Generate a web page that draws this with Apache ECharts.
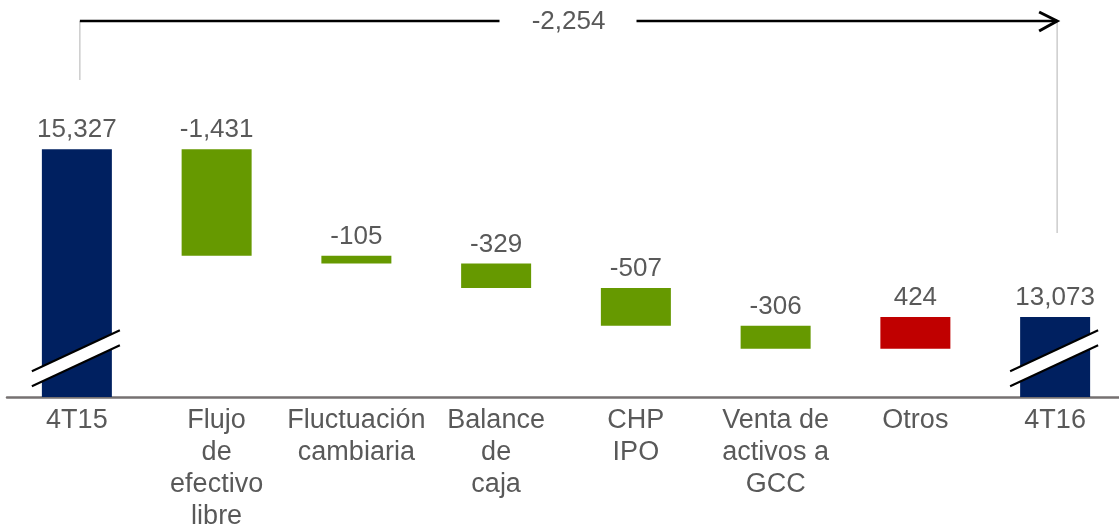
<!DOCTYPE html>
<html>
<head>
<meta charset="utf-8">
<script src="https://cdn.jsdelivr.net/npm/echarts@6/dist/echarts.min.js"></script>
<style>
  html, body { margin: 0; padding: 0; background: #fff; }
  #chart { width: 1119px; height: 525px; }
</style>
</head>
<body>
<div id="chart"></div>
<script>
// waterfall: first and last are totals, the rest are changes
const categories = ['4T15', 'Flujo\nde\nefectivo\nlibre', 'Fluctuación\ncambiaria', 'Balance\nde\ncaja',
  'CHP\nIPO', 'Venta de\nactivos a\nGCC', 'Otros', '4T16'];
const values = [15327, -1431, -105, -329, -507, -306, 424, 13073];
const isTotal = [true, false, false, false, false, false, false, true];
// axis is cut: bars start at 12,000, break marks drawn on the total bars
const axisMin = 12000;
const axisMax = 16000;
const breakAt = [[0, 12520], [7, 12520]];
// overall change shown by the arrow over the chart
const bracket = [[0, 7, -2254]];

const FONT = '"Liberation Sans", Arial, sans-serif';
const GRAY = '#595959';
const fmt = v => v.toLocaleString('en-US');

function initWaterfall() {
  const el = document.getElementById('chart');
  const chart = echarts.init(el);

  const base = [], shown = [];
  let running = 0;
  values.forEach((v, i) => {
    let color;
    if (isTotal[i]) {
      base.push(0);
      running = v;
      color = '#002060';
      shown.push({ value: v, itemStyle: { color } });
      return;
    }
    base.push(v < 0 ? running + v : running);
    running += v;
    color = v < 0 ? '#669900' : '#C00000';
    shown.push({ value: Math.abs(v), itemStyle: { color } });
  });

  chart.setOption({
    animation: false,
    grid: { left: 7, width: 1118, top: 99, bottom: 128, outerBoundsMode: 'none', containLabel: false },
    xAxis: {
      type: 'category',
      data: categories,
      axisTick: { show: false },
      axisLine: { lineStyle: { color: '#767171', width: 2.5 } },
      axisLabel: {
        interval: 0, margin: 8, color: GRAY, fontSize: 27, lineHeight: 32,
        fontFamily: FONT, align: 'center'
      }
    },
    yAxis: {
      type: 'value', min: axisMin, max: axisMax, show: false,
      splitLine: { show: false }
    },
    series: [
      {
        type: 'bar', stack: 'w', data: base, barWidth: 70,
        itemStyle: { color: 'transparent' }, silent: true
      },
      {
        type: 'bar', stack: 'w', data: shown, barWidth: 70,
        label: {
          show: true, position: 'top', distance: 6, color: GRAY,
          fontSize: 26, fontFamily: FONT,
          formatter: p => fmt(values[p.dataIndex])
        }
      },
      {
        type: 'custom', data: breakAt, z: 5, silent: true,
        renderItem: (params, api) => {
          const p = api.coord([api.value(0), api.value(1)]);
          const cx = p[0] - 1, cy = p[1];
          const hw = 44, rise = 20.5, gap = 7.5;
          return {
            type: 'group',
            children: [
              { type: 'polygon', shape: { points: [
                  [cx - hw, cy + rise - gap], [cx + hw, cy - rise - gap],
                  [cx + hw, cy - rise + gap], [cx - hw, cy + rise + gap]] },
                style: { fill: '#fff' } },
              { type: 'line', shape: { x1: cx - hw, y1: cy + rise - gap, x2: cx + hw, y2: cy - rise - gap },
                style: { stroke: '#000', lineWidth: 2 } },
              { type: 'line', shape: { x1: cx - hw, y1: cy + rise + gap, x2: cx + hw, y2: cy - rise + gap },
                style: { stroke: '#000', lineWidth: 2 } }
            ]
          };
        }
      },
      {
        type: 'custom', data: bracket, z: 5, silent: true,
        renderItem: (params, api) => {
          const x1 = api.coord([api.value(0), axisMin])[0] + 3;
          const x2 = api.coord([api.value(1), axisMin])[0] + 2;
          const y = params.coordSys.y - 78;
          const mid = (x1 + x2) / 2;
          return {
            type: 'group',
            children: [
              { type: 'line', shape: { x1: x1, y1: y, x2: x1, y2: y + 59 },
                style: { stroke: '#BFBFBF', lineWidth: 1.2 } },
              { type: 'line', shape: { x1: x2, y1: y, x2: x2, y2: y + 212 },
                style: { stroke: '#BFBFBF', lineWidth: 1.2 } },
              { type: 'line', shape: { x1: x1, y1: y, x2: mid - 69, y2: y },
                style: { stroke: '#000', lineWidth: 2.5 } },
              { type: 'line', shape: { x1: mid + 68, y1: y, x2: x2, y2: y },
                style: { stroke: '#000', lineWidth: 2.5 } },
              { type: 'polyline', shape: { points: [[x2 - 18, y - 9], [x2, y], [x2 - 18, y + 10]] },
                style: { stroke: '#000', lineWidth: 3, fill: null } },
              { type: 'text', x: mid, y: y + 1,
                style: { text: fmt(api.value(2)), fill: GRAY, fontSize: 26, fontFamily: FONT,
                  align: 'center', verticalAlign: 'middle' } }
            ]
          };
        }
      }
    ]
  });

  window.addEventListener('resize', () => chart.resize());
}

initWaterfall();
</script>
</body>
</html>
